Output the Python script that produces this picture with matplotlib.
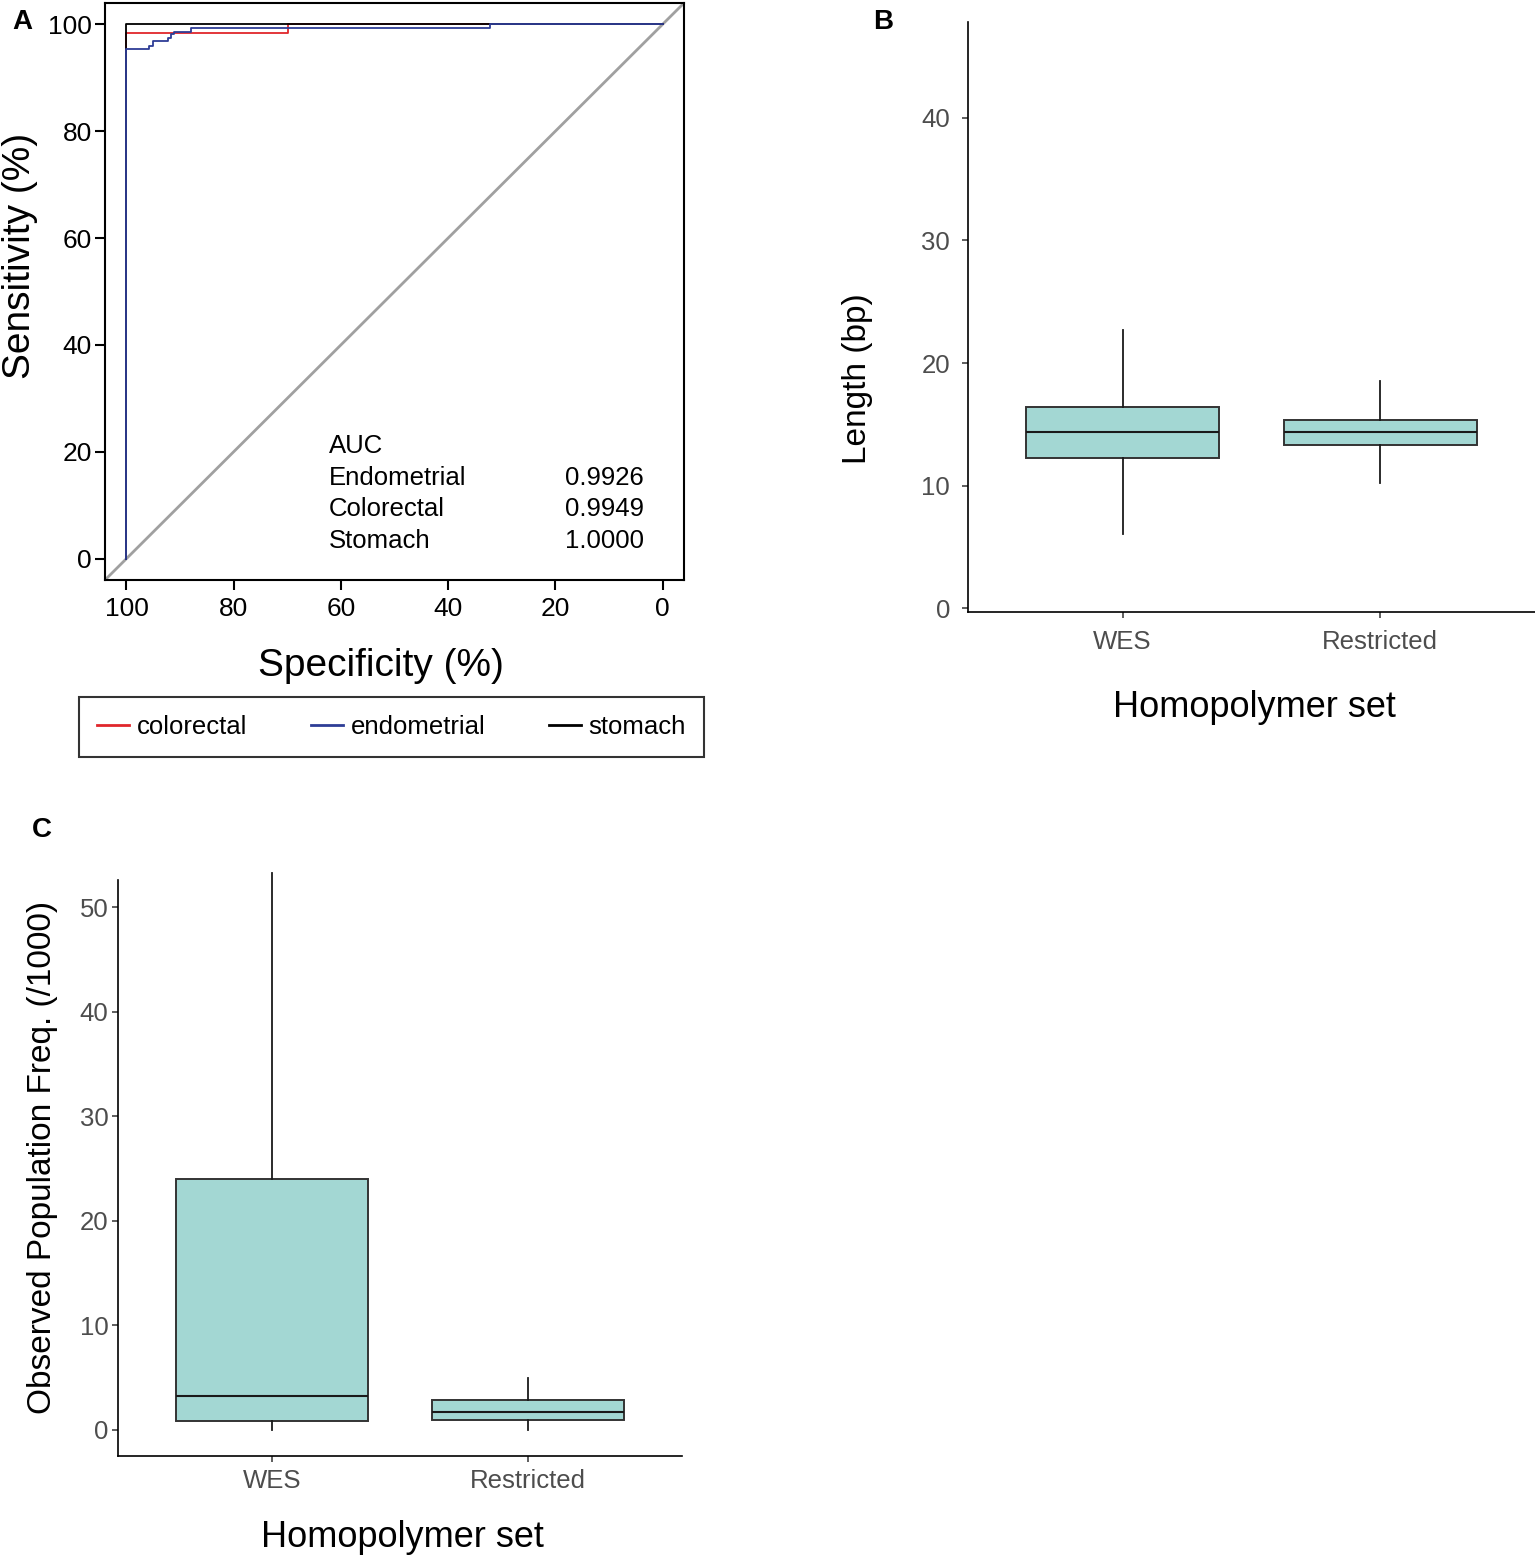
import numpy as np
import matplotlib
matplotlib.use("Agg")
import matplotlib.pyplot as plt

plt.rcParams['font.family'] = ['Liberation Sans', 'DejaVu Sans']

W, H = 1535, 1555

# ---- panel A: ROC curves (specificity, sensitivity in %) ----
roc_names = ['colorectal', 'endometrial', 'stomach']
roc_colors = {'colorectal': '#E0262B', 'endometrial': '#2E3D96', 'stomach': '#000000'}

spec_colorectal = [100, 100, 69.9, 69.9, 0]
sens_colorectal = [0, 98.3, 98.3, 100, 100]

spec_endometrial = [100, 100, 95.8, 95.8, 95.0, 95.0, 92.2, 92.2, 91.7, 91.7, 91.2, 91.2,
                    87.9, 87.9, 32.1, 32.1, 0]
sens_endometrial = [0, 95.4, 95.4, 96.0, 96.0, 96.8, 96.8, 97.5, 97.5, 98.2, 98.2, 98.6,
                    98.6, 99.3, 99.3, 100, 100]

spec_stomach = [100, 100, 0]
sens_stomach = [0, 100, 100]

auc_labels = ['Endometrial', 'Colorectal', 'Stomach']
auc_values = ['0.9926', '0.9949', '1.0000']

# ---- panels B and C: boxplot summaries ----
groups = ['WES', 'Restricted']
# whislo, q1, median, q3, whishi
length_stats = [[6.1, 12.25, 14.4, 16.4, 22.7],
                [10.2, 13.3, 14.35, 15.4, 18.5]]
freq_stats = [[0.0, 0.86, 3.25, 24.0, 53.3],
              [0.0, 1.0, 1.75, 2.87, 4.95]]

box_fill = '#A3D7D3'


def fx(px):
    return px / W


def fy(py):
    return 1 - py / H


fig = plt.figure(figsize=(W / 100, H / 100), dpi=100)

# ================= A =================
axA = fig.add_axes([fx(105), fy(580), fx(684) - fx(105), fy(3) - fy(580)])
axA.axline((100, 0), (0, 100), color='#A0A0A0', lw=2, zorder=1)
ln_c, = axA.plot(spec_colorectal, sens_colorectal, color=roc_colors['colorectal'], lw=1.3, zorder=2)
ln_s, = axA.plot(spec_stomach, sens_stomach, color=roc_colors['stomach'], lw=1.3, zorder=3)
ln_e, = axA.plot(spec_endometrial, sens_endometrial, color=roc_colors['endometrial'], lw=1.3, zorder=4)
axA.set_xlim(104, -4)
axA.set_ylim(-4, 104)
axA.set_xticks([100, 80, 60, 40, 20, 0])
axA.set_yticks([0, 20, 40, 60, 80, 100])
for sp in axA.spines.values():
    sp.set_linewidth(1.5)
axA.tick_params(labelsize=19, length=7.5, width=1.5, colors='black')
axA.tick_params(axis='x', pad=5)
axA.tick_params(axis='y', pad=2)
axA.set_xlabel('Specificity (%)', fontsize=28)
axA.set_ylabel('Sensitivity (%)', fontsize=28)
axA.xaxis.set_label_coords(0.477, -0.118)
axA.yaxis.set_label_coords(-0.1157, 0.561)

axA.text(0.387, 0.232, 'AUC', transform=axA.transAxes, fontsize=18.5, va='center', ha='left')
for i, (lab, val) in enumerate(zip(auc_labels, auc_values)):
    yy = 0.177 - i * 0.0547
    axA.text(0.387, yy, lab, transform=axA.transAxes, fontsize=18.5, va='center', ha='left')
    axA.text(0.931, yy, val, transform=axA.transAxes, fontsize=18.5, va='center', ha='right')

# legend box under panel A
leg = fig.legend([ln_c, ln_e, ln_s], roc_names, ncol=3, mode='expand',
                 bbox_to_anchor=(fx(79), fy(757), fx(704) - fx(79), fy(699) - fy(757)),
                 bbox_transform=fig.transFigure, loc='lower left', borderaxespad=0,
                 frameon=True, fancybox=False, edgecolor='black', fontsize=18.5,
                 handlelength=1.25, handletextpad=0.3, borderpad=0.7)
leg.get_frame().set_linewidth(1.5)
for h in leg.get_lines():
    h.set_linewidth(2)


def draw_box(ax, stats_list):
    stats = []
    for name, s in zip(groups, stats_list):
        stats.append({'label': name, 'whislo': s[0], 'q1': s[1], 'med': s[2],
                      'q3': s[3], 'whishi': s[4]})
    parts = ax.bxp(stats, positions=[1, 2], widths=0.75, patch_artist=True,
                   showfliers=False, showcaps=False,
                   boxprops=dict(facecolor=box_fill, edgecolor='#333333', linewidth=1.4),
                   medianprops=dict(color='#1A1A1A', linewidth=1.5),
                   whiskerprops=dict(color='#1A1A1A', linewidth=1.3))
    ax.set_xlim(0.4, 2.6)
    ax.spines['top'].set_visible(False)
    ax.spines['right'].set_visible(False)
    ax.spines['left'].set_linewidth(1.2)
    ax.spines['bottom'].set_linewidth(1.2)
    ax.tick_params(labelsize=18.5, labelcolor='#4D4D4D', color='#333333', length=4, width=1.1)
    return parts


# ================= B =================
axB = fig.add_axes([fx(968), fy(612), fx(1535) - fx(968), fy(22) - fy(612)])
draw_box(axB, length_stats)
axB.set_ylim(-0.29, 47.8)
axB.set_yticks([0, 10, 20, 30, 40])
axB.tick_params(axis='y', pad=9)
axB.tick_params(axis='x', pad=9)
axB.set_xlabel('Homopolymer set', fontsize=26)
axB.set_ylabel('Length (bp)', fontsize=24)
axB.xaxis.set_label_coords(0.506, -0.132)
axB.yaxis.set_label_coords(-0.1675, 0.395)

# ================= C =================
axC = fig.add_axes([fx(118), fy(1456), fx(682) - fx(118), fy(880) - fy(1456)])
partsC = draw_box(axC, freq_stats)
for w in partsC['whiskers']:
    w.set_clip_on(False)
axC.set_ylim(-2.49, 52.6)
axC.set_yticks([0, 10, 20, 30, 40, 50])
axC.tick_params(axis='y', pad=3)
axC.tick_params(axis='x', pad=5)
axC.set_xlabel('Homopolymer set', fontsize=26)
axC.set_ylabel('Observed Population Freq. (/1000)', fontsize=24)
axC.xaxis.set_label_coords(0.504, -0.111)
axC.yaxis.set_label_coords(-0.106, 0.519)

# panel letters
fig.text(fx(22), fy(22), 'A', fontsize=20, fontweight='bold', ha='center', va='center')
fig.text(fx(883), fy(22), 'B', fontsize=20, fontweight='bold', ha='center', va='center')
fig.text(fx(42), fy(830), 'C', fontsize=20, fontweight='bold', ha='center', va='center')

fig.savefig('out.png', dpi=100)
